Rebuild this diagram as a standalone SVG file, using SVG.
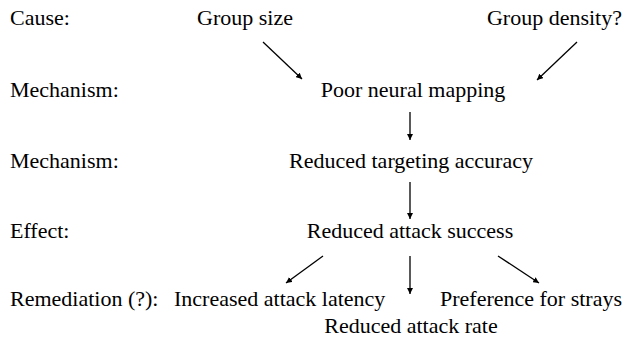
<svg xmlns="http://www.w3.org/2000/svg" width="632" height="361" viewBox="0 0 632 361">
<defs>
<marker id="ah" viewBox="0 0 10 10" refX="10" refY="5" markerWidth="6" markerHeight="6" markerUnits="userSpaceOnUse" orient="auto">
<path d="M0,0 L10,5 L0,10 z" fill="#000"/>
</marker>
</defs>
<rect width="632" height="361" fill="#fff"/>
<g fill="#000" font-size="22">
<g id="labels">
<text style="font-family:'Liberation Serif'" x="10" y="25">Cause:</text>
<text style="font-family:'Liberation Serif'" x="10" y="97">Mechanism:</text>
<text style="font-family:'Liberation Serif'" x="10" y="168">Mechanism:</text>
<text style="font-family:'Liberation Serif'" x="10" y="238">Effect:</text>
<text style="font-family:'Liberation Serif'" x="10" y="306">Remediation (?):</text>
</g>
<g id="n-groupsize"><text style="font-family:'Liberation Serif'" text-anchor="middle" x="245" y="25">Group size</text></g>
<g id="n-groupdensity"><text style="font-family:'Liberation Serif'" text-anchor="end" x="622" y="25">Group density?</text></g>
<g id="n-poorneural"><text style="font-family:'Liberation Serif'" text-anchor="middle" x="413" y="97">Poor neural mapping</text></g>
<g id="n-targeting"><text style="font-family:'Liberation Serif'" text-anchor="middle" x="411" y="168">Reduced targeting accuracy</text></g>
<g id="n-success"><text style="font-family:'Liberation Serif'" text-anchor="middle" x="410" y="238">Reduced attack success</text></g>
<g id="n-latency"><text style="font-family:'Liberation Serif'" x="174" y="306">Increased attack latency</text></g>
<g id="n-strays"><text style="font-family:'Liberation Serif'" text-anchor="end" x="622" y="306">Preference for strays</text></g>
<g id="n-rate"><text style="font-family:'Liberation Serif'" text-anchor="middle" x="411" y="333">Reduced attack rate</text></g>
</g>
<g id="connectors" stroke="#000" stroke-width="1.3">
<line x1="263" y1="42" x2="302" y2="79" marker-end="url(#ah)"/>
<line x1="577" y1="42" x2="537" y2="80" marker-end="url(#ah)"/>
<line x1="410" y1="112" x2="410" y2="140" marker-end="url(#ah)"/>
<line x1="410" y1="182" x2="410" y2="219" marker-end="url(#ah)"/>
<line x1="323" y1="256" x2="286" y2="283" marker-end="url(#ah)"/>
<line x1="410" y1="256" x2="410" y2="294" marker-end="url(#ah)"/>
<line x1="498" y1="256" x2="539" y2="283" marker-end="url(#ah)"/>
</g>
</svg>
